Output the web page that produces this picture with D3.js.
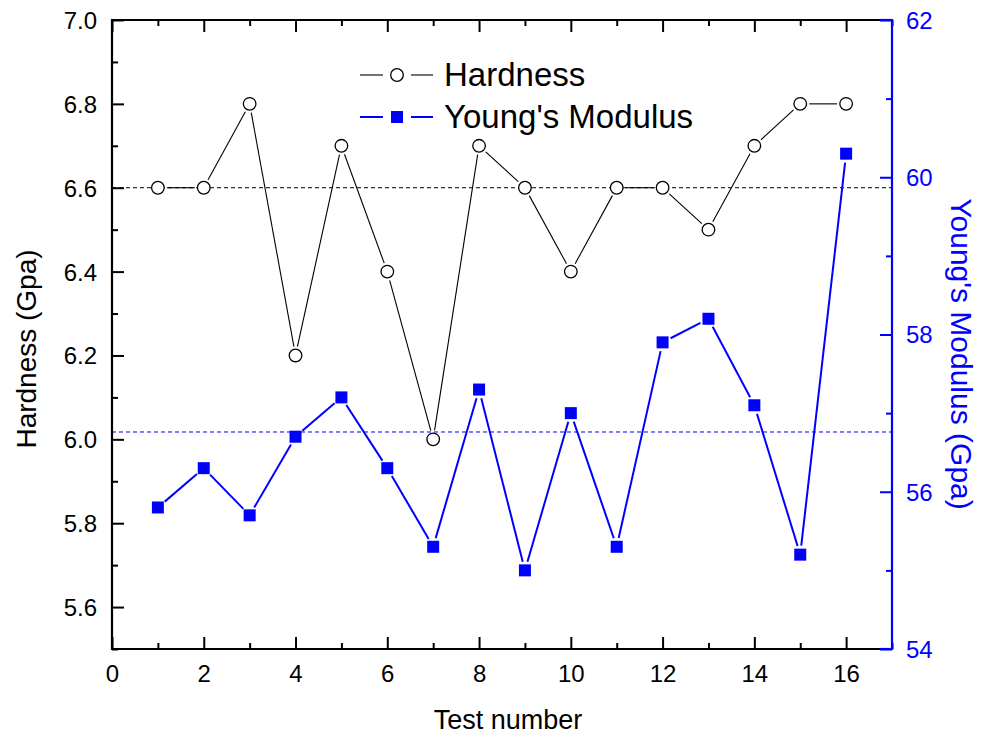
<!DOCTYPE html>
<html>
<head>
<meta charset="utf-8">
<script src="https://cdn.jsdelivr.net/npm/d3@7"></script>
<style>
  html, body { margin: 0; padding: 0; background: #fff; }
  svg { display: block; }
  text { font-family: "Liberation Sans", Arial, sans-serif; }
</style>
</head>
<body>
<svg id="chart" width="981" height="740"></svg>
<script>
// ---- data ----
const testNumbers = [1, 2, 3, 4, 5, 6, 7, 8, 9, 10, 11, 12, 13, 14, 15, 16];
const hardness = [6.6, 6.6, 6.8, 6.2, 6.7, 6.4, 6.0, 6.7, 6.6, 6.4, 6.6, 6.6, 6.5, 6.7, 6.8, 6.8];
const youngsModulus = [55.8, 56.3, 55.7, 56.7, 57.2, 56.3, 55.3, 57.3, 55.0, 57.0, 55.3, 57.9, 58.2, 57.1, 55.2, 60.3];
const hardnessRef = 6.6;
const youngsRef = 56.76;
const xTickValues = [0, 1, 2, 3, 4, 5, 6, 7, 8, 9, 10, 11, 12, 13, 14, 15, 16, 17];
const xTickLabels = ["0", "2", "4", "6", "8", "10", "12", "14", "16"];
const leftTickValues = [5.5, 5.6, 5.7, 5.8, 5.9, 6.0, 6.1, 6.2, 6.3, 6.4, 6.5, 6.6, 6.7, 6.8, 6.9, 7.0];
const leftTickLabels = ["5.6", "5.8", "6.0", "6.2", "6.4", "6.6", "6.8", "7.0"];
const rightTickValues = [54, 55, 56, 57, 58, 59, 60, 61, 62];
const rightTickLabels = ["54", "56", "58", "60", "62"];
const seriesNames = ["Hardness", "Young's Modulus"];

// ---- layout ----
const L = 112, R = 892, T = 20, B = 649;
const BLUE = "#0000ff";
const svg = d3.select("#chart");

const x = d3.scaleLinear().domain([0, 17]).range([L, R]);
const yL = d3.scaleLinear().domain([5.5, 7.0]).range([B, T]);
const yR = d3.scaleLinear().domain([54, 62]).range([B, T]);

const isMajorX = v => xTickLabels.includes(String(v));
const isMajorL = v => leftTickLabels.includes(v.toFixed(1));
const isMajorR = v => rightTickLabels.includes(String(v));

// reference dashed lines
svg.append("line").attr("x1", L).attr("x2", R)
  .attr("y1", yL(hardnessRef)).attr("y2", yL(hardnessRef))
  .attr("stroke", "#000").attr("stroke-width", 1).attr("stroke-dasharray", "4,3");
svg.append("line").attr("x1", L).attr("x2", R)
  .attr("y1", yR(youngsRef)).attr("y2", yR(youngsRef))
  .attr("stroke", BLUE).attr("stroke-width", 1).attr("stroke-dasharray", "4,3");

// gapped segments
function segments(xs, ys, xsc, ysc, gap) {
  const out = [];
  for (let i = 0; i < xs.length - 1; i++) {
    const x0 = xsc(xs[i]), y0 = ysc(ys[i]), x1 = xsc(xs[i + 1]), y1 = ysc(ys[i + 1]);
    const dx = x1 - x0, dy = y1 - y0, len = Math.hypot(dx, dy);
    if (len <= 2 * gap) continue;
    const ux = dx / len, uy = dy / len;
    out.push({ x1: x0 + ux * gap, y1: y0 + uy * gap, x2: x1 - ux * gap, y2: y1 - uy * gap });
  }
  return out;
}

// Young's modulus series
svg.append("g").selectAll("line")
  .data(segments(testNumbers, youngsModulus, x, yR, 9)).join("line")
  .attr("x1", d => d.x1).attr("y1", d => d.y1).attr("x2", d => d.x2).attr("y2", d => d.y2)
  .attr("stroke", BLUE).attr("stroke-width", 2);
svg.append("g").selectAll("rect")
  .data(testNumbers).join("rect")
  .attr("x", (d, i) => x(d) - 6).attr("y", (d, i) => yR(youngsModulus[i]) - 6)
  .attr("width", 12).attr("height", 12).attr("fill", BLUE);

// Hardness series
svg.append("g").selectAll("line")
  .data(segments(testNumbers, hardness, x, yL, 9)).join("line")
  .attr("x1", d => d.x1).attr("y1", d => d.y1).attr("x2", d => d.x2).attr("y2", d => d.y2)
  .attr("stroke", "#000").attr("stroke-width", 1.1);
svg.append("g").selectAll("circle")
  .data(testNumbers).join("circle")
  .attr("cx", d => x(d)).attr("cy", (d, i) => yL(hardness[i]))
  .attr("r", 6.3).attr("fill", "#fff").attr("stroke", "#000").attr("stroke-width", 1.3);

// ---- axes ----
const fontTick = 24;
// bottom
const gB = svg.append("g").attr("transform", `translate(0,${B})`)
  .call(d3.axisBottom(x).tickValues(xTickValues).tickSize(0).tickFormat(""));
gB.select(".domain").remove();
gB.selectAll(".tick line").remove();
gB.selectAll(".tick").append("line")
  .attr("y1", 0).attr("y2", d => isMajorX(d) ? -12 : -6)
  .attr("stroke", "#000").attr("stroke-width", 2);
gB.selectAll(".tick").filter(d => isMajorX(d)).append("text")
  .attr("y", 33).attr("text-anchor", "middle").attr("fill", "#000")
  .attr("font-size", fontTick).text(d => String(d));
// top
const gT = svg.append("g").attr("transform", `translate(0,${T})`)
  .call(d3.axisTop(x).tickValues(xTickValues).tickSize(0).tickFormat(""));
gT.select(".domain").remove();
gT.selectAll(".tick line").remove();
gT.selectAll(".tick").append("line")
  .attr("y1", 0).attr("y2", d => isMajorX(d) ? 12 : 6)
  .attr("stroke", "#000").attr("stroke-width", 2);
// left
const gL = svg.append("g").attr("transform", `translate(${L},0)`)
  .call(d3.axisLeft(yL).tickValues(leftTickValues).tickSize(0).tickFormat(""));
gL.select(".domain").remove();
gL.selectAll(".tick line").remove();
gL.selectAll(".tick").append("line")
  .attr("x1", 0).attr("x2", d => isMajorL(d) ? 12 : 6)
  .attr("stroke", "#000").attr("stroke-width", 2);
gL.selectAll(".tick").filter(d => isMajorL(d)).append("text")
  .attr("x", -15).attr("dy", "0.35em").attr("text-anchor", "end").attr("fill", "#000")
  .attr("font-size", fontTick).text(d => d.toFixed(1));
// right
const gR = svg.append("g").attr("transform", `translate(${R},0)`)
  .call(d3.axisRight(yR).tickValues(rightTickValues).tickSize(0).tickFormat(""));
gR.select(".domain").remove();
gR.selectAll(".tick line").remove();
gR.selectAll(".tick").append("line")
  .attr("x1", 0).attr("x2", d => isMajorR(d) ? -12 : -6)
  .attr("stroke", BLUE).attr("stroke-width", 2);
gR.selectAll(".tick").filter(d => isMajorR(d)).append("text")
  .attr("x", 14).attr("dy", "0.35em").attr("text-anchor", "start").attr("fill", BLUE)
  .attr("font-size", fontTick).text(d => String(d));

// frame lines
svg.append("line").attr("x1", L - 1).attr("x2", R).attr("y1", T).attr("y2", T).attr("stroke", "#000").attr("stroke-width", 2.2);
svg.append("line").attr("x1", L - 1).attr("x2", R).attr("y1", B).attr("y2", B).attr("stroke", "#000").attr("stroke-width", 2.2);
svg.append("line").attr("x1", L).attr("x2", L).attr("y1", T - 1).attr("y2", B + 1).attr("stroke", "#000").attr("stroke-width", 2.2);
svg.append("line").attr("x1", R).attr("x2", R).attr("y1", T - 1).attr("y2", B + 1).attr("stroke", BLUE).attr("stroke-width", 2.2);
svg.append("line").attr("x1", R - 12).attr("x2", R).attr("y1", T).attr("y2", T).attr("stroke", BLUE).attr("stroke-width", 2.2);
svg.append("line").attr("x1", R - 12).attr("x2", R).attr("y1", B).attr("y2", B).attr("stroke", BLUE).attr("stroke-width", 2.2);

// axis titles
svg.append("text").attr("x", 508).attr("y", 729).attr("text-anchor", "middle")
  .attr("font-size", 27).attr("fill", "#000").text("Test number");
svg.append("text").attr("transform", "translate(36,349) rotate(-90)").attr("text-anchor", "middle")
  .attr("font-size", 28).attr("fill", "#000").text("Hardness (Gpa)");
svg.append("text").attr("transform", "translate(951,354) rotate(90)").attr("text-anchor", "middle")
  .attr("font-size", 30).attr("fill", BLUE).text("Young's Modulus (Gpa)");

// ---- legend ----
const legend = svg.append("g");
const legY = [75, 117];
const legColors = ["#000", BLUE];
const legWidths = [1.1, 2];
seriesNames.forEach((name, i) => {
  const g = legend.append("g");
  g.append("line").attr("x1", 360).attr("x2", 383).attr("y1", legY[i]).attr("y2", legY[i])
    .attr("stroke", legColors[i]).attr("stroke-width", legWidths[i]);
  g.append("line").attr("x1", 411).attr("x2", 433).attr("y1", legY[i]).attr("y2", legY[i])
    .attr("stroke", legColors[i]).attr("stroke-width", legWidths[i]);
  if (i === 0) {
    g.append("circle").attr("cx", 397).attr("cy", legY[i]).attr("r", 6.3)
      .attr("fill", "#fff").attr("stroke", "#000").attr("stroke-width", 1.3);
  } else {
    g.append("rect").attr("x", 391).attr("y", legY[i] - 6).attr("width", 12).attr("height", 12).attr("fill", BLUE);
  }
  g.append("text").attr("x", 444).attr("y", legY[i] + 11).attr("font-size", 33)
    .attr("fill", "#000").text(name);
});
</script>
</body>
</html>
